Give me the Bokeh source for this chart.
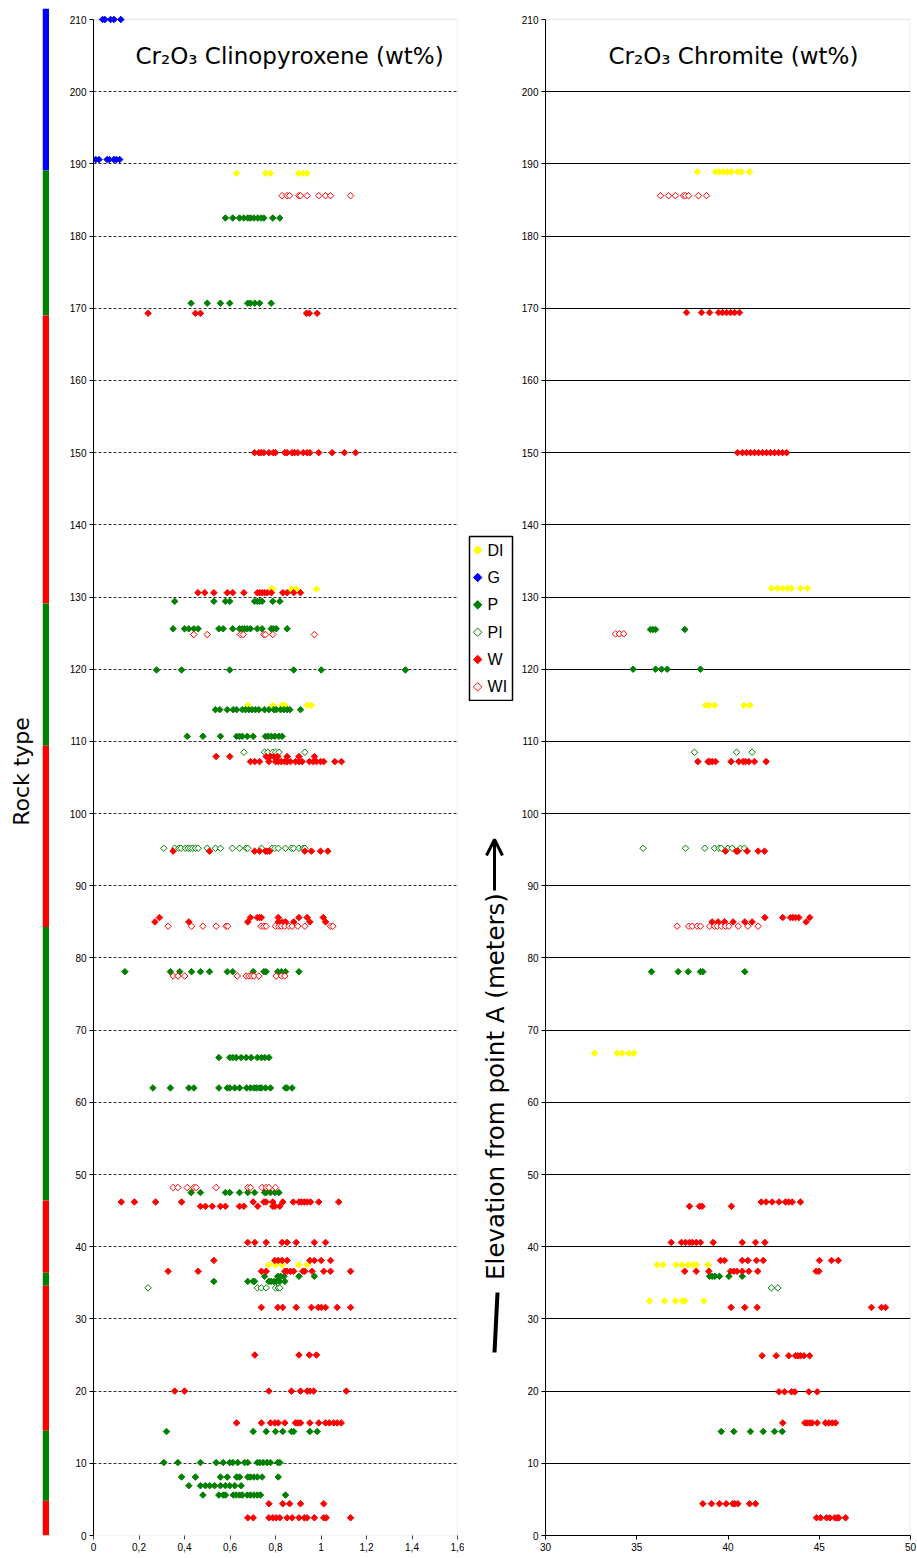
import numpy as np
from bokeh.plotting import figure
from bokeh.layouts import row, column
from bokeh.models import (FixedTicker, BoxAnnotation, Label, Arrow, OpenHead, Range1d,
                          FactorRange, Spacer)
from bokeh.core.properties import value
from bokeh.embed import file_html
from bokeh.resources import INLINE

# ---------------- data ----------------
# rock-type column (boundaries from top to bottom, metres) and the type of each interval
rock_bounds = [211.5, 189.1, 169.0, 129.1, 109.4, 84.3, 46.4, 36.4, 34.6, 14.5, 4.8, 0.0]
rock_types = ["G", "P", "W", "P", "W", "P", "W", "P", "W", "P", "W"]

series_names = ["DI", "G", "P", "PI", "W", "WI"]

# Cr2O3 in clinopyroxene (wt%): (elevation, [values])
cpx_DI = [(188.7, [0.629, 0.756, 0.778, 0.902, 0.921, 0.939]),
          (131.1, [0.782, 0.788, 0.870, 0.891, 0.980]),
          (115.0, [0.678, 0.788, 0.829, 0.841, 0.939, 0.958]),
          (37.5, [0.771, 0.800, 0.829, 0.903, 0.939])]
cpx_G = [(210.0, [0.040, 0.050, 0.075, 0.090, 0.120]),
         (190.6, [0.010, 0.024, 0.060, 0.070, 0.090, 0.100, 0.115])]
cpx_P = [(182.5, [0.580, 0.612, 0.642, 0.661, 0.678, 0.690, 0.705, 0.722, 0.737, 0.749, 0.788, 0.819]),
         (170.7, [0.429, 0.500, 0.558, 0.599, 0.678, 0.690, 0.709, 0.730, 0.781]),
         (129.4, [0.357, 0.529, 0.580, 0.599, 0.708, 0.720, 0.730, 0.741, 0.788, 0.819]),
         (125.6, [0.350, 0.400, 0.419, 0.441, 0.460, 0.551, 0.570, 0.612, 0.642, 0.654, 0.664,
                  0.676, 0.690, 0.720, 0.741, 0.781, 0.790, 0.803, 0.851]),
         (119.9, [0.277, 0.387, 0.599, 0.880, 1.001, 1.371]),
         (114.4, [0.536, 0.555, 0.588, 0.614, 0.629, 0.654, 0.668, 0.683, 0.697, 0.712, 0.727,
                  0.752, 0.771, 0.793, 0.803, 0.822, 0.837, 0.851, 0.863, 0.910]),
         (110.7, [0.412, 0.481, 0.558, 0.629, 0.642, 0.654, 0.676, 0.702, 0.756, 0.768, 0.782,
                  0.797, 0.815, 0.829]),
         (78.1, [0.138, 0.338, 0.379, 0.431, 0.470, 0.510, 0.588, 0.612, 0.702, 0.749, 0.759,
                 0.810, 0.826, 0.844, 0.903]),
         (66.2, [0.551, 0.599, 0.612, 0.627, 0.649, 0.671, 0.693, 0.720, 0.738, 0.753, 0.771]),
         (62.0, [0.261, 0.338, 0.419, 0.441, 0.551, 0.588, 0.599, 0.621, 0.642, 0.673, 0.690,
                 0.705, 0.716, 0.730, 0.738, 0.756, 0.778, 0.844, 0.851, 0.873]),
         (47.5, [0.429, 0.470, 0.580, 0.599, 0.642, 0.678, 0.708, 0.752, 0.760, 0.778, 0.797, 0.815]),
         (35.9, [0.752, 0.810, 0.822, 0.837, 0.903, 0.971]),
         (35.2, [0.529, 0.678, 0.702, 0.708, 0.771, 0.781, 0.793, 0.803, 0.819, 0.841]),
         (14.4, [0.321, 0.702, 0.759, 0.800, 0.832, 0.870, 0.880, 0.951, 0.983]),
         (10.1, [0.309, 0.371, 0.470, 0.539, 0.570, 0.599, 0.612, 0.634, 0.664, 0.678, 0.720,
                 0.731, 0.746, 0.763, 0.778, 0.810, 0.819]),
         (8.1, [0.387, 0.448, 0.558, 0.588, 0.629, 0.642, 0.678, 0.690, 0.705, 0.720, 0.741, 0.812]),
         (6.9, [0.419, 0.470, 0.492, 0.511, 0.532, 0.558, 0.580, 0.599, 0.621, 0.649]),
         (5.6, [0.481, 0.551, 0.570, 0.580, 0.614, 0.627, 0.642, 0.654, 0.676, 0.690, 0.705,
                0.720, 0.734, 0.844])]
cpx_PI = [(108.5, [0.661, 0.752, 0.766, 0.788, 0.800, 0.815, 0.929]),
          (95.2, [0.309, 0.357, 0.375, 0.385, 0.404, 0.416, 0.426, 0.436, 0.448, 0.460, 0.500,
                  0.536, 0.558, 0.610, 0.642, 0.671, 0.678, 0.738, 0.785, 0.797, 0.812, 0.844,
                  0.870, 0.880, 0.903, 0.922, 0.929]),
          (34.3, [0.240, 0.720, 0.738, 0.759, 0.800, 0.812, 0.819])]
cpx_W = [(169.3, [0.240, 0.448, 0.470, 0.936, 0.949, 0.983]),
         (150.0, [0.708, 0.727, 0.737, 0.749, 0.771, 0.790, 0.800, 0.841, 0.851, 0.873, 0.884,
                  0.898, 0.922, 0.939, 0.951, 0.990, 1.049, 1.103, 1.152]),
         (130.6, [0.459, 0.489, 0.529, 0.588, 0.612, 0.661, 0.720, 0.730, 0.741, 0.752, 0.763,
                  0.782, 0.832, 0.851, 0.880, 0.910]),
         (107.9, [0.539, 0.599, 0.759, 0.778, 0.793, 0.810, 0.851, 0.903, 0.971]),
         (107.2, [0.690, 0.709, 0.730, 0.771, 0.800, 0.812, 0.825, 0.840, 0.851, 0.866, 0.888,
                  0.903, 0.917, 0.949, 0.966, 0.980, 0.998, 1.012, 1.061, 1.090]),
         (94.8, [0.350, 0.510, 0.708, 0.730, 0.756, 0.763, 0.774, 0.929, 0.958, 0.998, 1.030]),
         (85.6, [0.290, 0.690, 0.720, 0.730, 0.738, 0.812, 0.903, 0.939, 1.010]),
         (85.0, [0.270, 0.419, 0.678, 0.812, 0.829, 0.844, 0.880, 0.951, 1.020]),
         (46.2, [0.122, 0.180, 0.273, 0.387, 0.702, 0.749, 0.759, 0.788, 0.832, 0.878, 0.903,
                 0.914, 0.927, 0.939, 0.954, 0.990, 1.078]),
         (45.6, [0.470, 0.492, 0.522, 0.558, 0.580, 0.642, 0.661, 0.722, 0.788, 0.797, 0.819]),
         (40.6, [0.678, 0.709, 0.759, 0.829, 0.851, 0.891, 0.971, 1.020]),
         (38.1, [0.529, 0.797, 0.812, 0.829, 0.851, 0.951, 0.971, 1.001, 1.042]),
         (36.6, [0.328, 0.460, 0.738, 0.759, 0.841, 0.851, 0.866, 0.880, 0.920, 0.929, 0.961,
                 1.012, 1.042, 1.130]),
         (31.6, [0.738, 0.810, 0.832, 0.891, 0.958, 0.988, 1.002, 1.020, 1.071, 1.130]),
         (25.0, [0.709, 0.903, 0.949, 0.980]),
         (20.0, [0.357, 0.400, 0.771, 0.870, 0.910, 0.939, 0.951, 0.968, 1.111]),
         (15.6, [0.629, 0.738, 0.778, 0.797, 0.812, 0.841, 0.888, 0.898, 0.910, 0.951, 0.990,
                 1.020, 1.037, 1.056, 1.071, 1.089]),
         (4.4, [0.771, 0.832, 0.862, 0.910, 1.012]),
         (2.45, [0.678, 0.702, 0.771, 0.788, 0.803, 0.819, 0.851, 0.873, 0.903, 0.927, 0.939,
                 0.971, 1.012, 1.023, 1.130])]
cpx_WI = [(185.6, [0.829, 0.851, 0.862, 0.903, 0.910, 0.939, 0.990, 1.020, 1.042, 1.130]),
          (124.8, [0.441, 0.500, 0.646, 0.658, 0.749, 0.756, 0.788, 0.971]),
          (84.4, [0.328, 0.431, 0.481, 0.539, 0.583, 0.590, 0.737, 0.749, 0.759, 0.800, 0.815,
                  0.826, 0.841, 0.859, 0.873, 0.898, 0.929, 1.042, 1.052]),
          (77.5, [0.350, 0.371, 0.401, 0.632, 0.671, 0.683, 0.695, 0.705, 0.727, 0.803, 0.826, 0.841]),
          (48.2, [0.350, 0.371, 0.412, 0.441, 0.451, 0.539, 0.678, 0.690, 0.741, 0.759, 0.771, 0.800])]

# Cr2O3 in chromite (wt%): (elevation, [values])
chr_DI = [(188.9, [38.33, 39.32, 39.53, 39.75, 39.97, 40.19, 40.52, 40.74, 41.18]),
          (131.2, [42.38, 42.71, 42.99, 43.26, 43.48, 43.97, 44.36]),
          (115.0, [38.77, 38.95, 39.26, 40.87, 41.20]),
          (66.8, [32.68, 33.93, 34.20, 34.57, 34.84]),
          (37.5, [36.12, 36.43, 37.16, 37.49, 37.82, 38.09, 38.27, 38.90]),
          (32.5, [35.70, 36.52, 37.12, 37.49, 37.63, 38.68])]
chr_G = []
chr_P = [(125.5, [35.75, 35.88, 36.03, 37.63]),
         (120.0, [34.80, 36.03, 36.36, 36.67, 38.49]),
         (78.1, [35.81, 37.27, 37.82, 38.49, 38.62, 40.92]),
         (35.9, [38.99, 39.13, 39.28, 39.53, 40.05, 40.78]),
         (14.4, [39.63, 40.32, 41.23, 41.93, 42.55, 42.97])]
chr_PI = [(108.5, [38.16, 40.47, 41.32]),
          (95.2, [35.35, 37.67, 38.73, 39.26, 39.50, 39.63, 39.99, 40.23, 40.68, 40.90]),
          (34.3, [42.38, 42.73])]
chr_W = [(169.4, [37.73, 38.55, 38.99, 39.48, 39.70, 39.92, 40.14, 40.36, 40.63]),
         (150.0, [40.52, 40.79, 41.01, 41.23, 41.45, 41.67, 41.89, 42.11, 42.33, 42.55, 42.77,
                  42.99, 43.21]),
         (107.2, [38.35, 38.91, 39.00, 39.13, 39.32, 40.17, 40.59, 40.83, 40.96, 41.14, 41.45, 42.09]),
         (94.8, [39.86, 40.45, 40.54, 41.05, 41.65, 42.00]),
         (85.6, [42.02, 43.00, 43.42, 43.55, 43.70, 43.88, 44.48]),
         (85.0, [39.13, 39.46, 39.81, 40.28, 40.92, 41.32, 44.28]),
         (46.2, [41.82, 42.09, 42.42, 42.79, 43.15, 43.33, 43.52, 43.97]),
         (45.6, [37.89, 38.44, 38.58, 40.19]),
         (40.6, [36.89, 37.45, 37.67, 37.89, 38.04, 38.26, 38.49, 39.19, 40.78, 41.51, 42.02]),
         (38.1, [39.59, 39.81, 40.78, 41.09, 41.56, 41.93, 45.01, 45.67, 46.04]),
         (36.6, [37.63, 38.26, 38.95, 40.14, 40.32, 40.50, 40.78, 41.14, 41.63, 44.83, 44.98]),
         (31.6, [40.17, 40.92, 41.60, 47.86, 48.41, 48.63]),
         (24.9, [41.87, 42.64, 43.33, 43.70, 43.83, 43.97, 44.16, 44.47]),
         (19.9, [42.79, 43.10, 43.48, 43.66, 44.43, 44.89]),
         (15.6, [43.00, 44.21, 44.34, 44.48, 44.61, 44.89, 45.34, 45.53, 45.71, 45.89]),
         (4.4, [38.62, 39.10, 39.53, 39.90, 40.26, 40.37, 40.54, 41.18, 41.51]),
         (2.45, [44.85, 45.07, 45.40, 45.58, 45.85, 45.98, 46.07, 46.44])]
chr_WI = [(185.6, [36.30, 36.74, 37.12, 37.56, 37.67, 37.84, 38.38, 38.82]),
          (124.9, [33.84, 34.05, 34.29]),
          (84.4, [37.21, 37.85, 38.04, 38.31, 38.49, 39.00, 39.26, 39.41, 39.63, 39.86, 40.05,
                  40.56, 41.09, 41.65])]

y_ticks = list(range(0, 211, 10))
left_x_ticks = [0, 0.2, 0.4, 0.6, 0.8, 1.0, 1.2, 1.4, 1.6]
left_x_labels = ["0", "0,2", "0,4", "0,6", "0,8", "1", "1,2", "1,4", "1,6"]
right_x_ticks = [30, 35, 40, 45, 50]

title_left = "Cr\u2082O\u2083 Clinopyroxene (wt%)"
title_right = "Cr\u2082O\u2083 Chromite (wt%)"
axis_title = "Elevation from point A (meters)"

# ---------------- styling / geometry ----------------
COLORS = {"DI": "#FFFF00", "G": "#0000FF", "P": "#008000", "PI": "#008000",
          "W": "#FF0000", "WI": "#FF0000"}
OPEN = {"PI", "WI"}
TICK_FONT = "Liberation Sans"
H = 1556
Y0_PAGE = 1535          # page row of elevation 0
Y210_PAGE = 19          # page row of elevation 210
TOP = 7                 # frame top (page row) for every panel
BOTTOM = H - Y0_PAGE
PX_PER_UNIT = (Y0_PAGE - Y210_PAGE) / 210.0
Y_TOP = 210 + (Y210_PAGE - TOP) / PX_PER_UNIT
MID_LEFT = 5            # left border inside the middle column (aligned with the legend)


def expand(rows):
    xs, ys = [], []
    for yv, vals in rows:
        xs += list(vals)
        ys += [yv] * len(vals)
    return xs, ys


def add_series(p, xs, ys, name, size=4.6):
    col = COLORS[name]
    fill = "white" if name in OPEN else col
    return p.scatter(x=xs, y=ys, marker="square", angle=np.pi / 4, size=size,
                     fill_color=fill, line_color=col, line_width=1)


def blank(p):
    p.background_fill_color = "white"
    p.border_fill_color = "white"
    p.outline_line_color = None
    p.grid.visible = False


def style_common(p):
    blank(p)
    p.ygrid.visible = True
    ya = p.yaxis[0]
    ya.ticker = FixedTicker(ticks=y_ticks)
    ya.bounds = (0, 210)
    ya.major_tick_out = 4
    ya.major_tick_in = 0
    ya.minor_tick_line_color = None
    ya.axis_line_color = "black"
    ya.major_tick_line_color = "black"
    ya.major_label_standoff = 3
    ya.major_label_text_font = TICK_FONT
    ya.major_label_text_font_size = "10px"
    ya.major_label_text_color = "#000000"
    xa = p.xaxis[0]
    xa.major_tick_out = 4
    xa.major_tick_in = 0
    xa.minor_tick_line_color = None
    xa.major_label_standoff = 3
    xa.major_label_text_font = TICK_FONT
    xa.major_label_text_font_size = "10px"
    xa.major_label_text_color = "#000000"


# ---------------- rock-type bar ----------------
B = figure(width=49, height=H, x_range=Range1d(0, 1), y_range=Range1d(0, Y_TOP),
           output_backend="svg", toolbar_location=None, x_axis_location=None,
           min_border_left=42, min_border_right=0, min_border_top=TOP, min_border_bottom=BOTTOM)
blank(B)
rock_col = {"G": "#0000FF", "P": "#008000", "W": "#FF0000"}
B.quad(left=0, right=1, top=rock_bounds[:-1], bottom=rock_bounds[1:],
       fill_color=[rock_col[t] for t in rock_types], line_color=None)
ba = B.yaxis[0]
ba.ticker = FixedTicker(ticks=[])
ba.axis_line_color = None
ba.major_tick_line_color = None
ba.minor_tick_line_color = None
ba.major_tick_out = 0
ba.major_label_standoff = 0
ba.axis_label = "Rock type"
ba.axis_label_text_font = "DejaVu Sans"
ba.axis_label_text_font_style = "normal"
ba.axis_label_text_font_size = "22px"
ba.axis_label_text_color = "black"
ba.axis_label_standoff = 9

# ---------------- clinopyroxene panel ----------------
L = figure(width=415, height=H, x_range=Range1d(0, 1.6), y_range=Range1d(0, Y_TOP),
           output_backend="svg", toolbar_location=None,
           min_border_left=44, min_border_right=7, min_border_top=TOP, min_border_bottom=BOTTOM)
style_common(L)
L.add_layout(BoxAnnotation(left=0, right=1.6, bottom=0, top=210, fill_alpha=0,
                           line_color="#b8b8b8", line_width=1.5, level="image"))
L.xaxis[0].ticker = FixedTicker(ticks=left_x_ticks)
L.xaxis[0].major_label_overrides = {t: s for t, s in zip(left_x_ticks, left_x_labels)}
L.xaxis[0].axis_line_color = None
L.xaxis[0].major_tick_line_color = "#404040"
L.ygrid[0].ticker = FixedTicker(ticks=y_ticks[:-1])
L.ygrid[0].grid_line_color = "#303030"
L.ygrid[0].grid_line_dash = "3 2"
L.ygrid[0].grid_line_width = 1

cpx = {"DI": cpx_DI, "G": cpx_G, "P": cpx_P, "PI": cpx_PI, "W": cpx_W, "WI": cpx_WI}
for n in series_names:
    xs, ys = expand(cpx[n])
    add_series(L, xs, ys, n)

L.add_layout(Label(x=42, y=Y0_PAGE - 55.5, x_units="screen", y_units="screen",
                   text=title_left, text_font="DejaVu Sans", text_font_size="23px",
                   text_color="black", text_align="left", text_baseline="alphabetic"))

# ---------------- middle: legend + axis title ----------------
LG = figure(width=51, height=166, x_range=Range1d(0, 1),
            y_range=FactorRange(factors=list(reversed(series_names))),
            output_backend="svg", toolbar_location=None,
            x_axis_location=None, y_axis_location=None,
            min_border_left=MID_LEFT, min_border_right=3, min_border_top=1, min_border_bottom=1)
blank(LG)
LG.outline_line_color = "black"
LG.outline_line_width = 1.5
LG.scatter(x=[0.19] * len(series_names), y=series_names, marker="square", angle=np.pi / 4,
           size=6, line_width=1, line_color=[COLORS[n] for n in series_names],
           fill_color=["white" if n in OPEN else COLORS[n] for n in series_names])
LG.text(x=[0.42] * len(series_names), y=series_names, text=series_names,
        text_font=value(TICK_FONT), text_font_size=value("16px"), text_color="black",
        text_align="left", text_baseline="middle")

EF = figure(width=51, height=H - 535 - 166, x_range=Range1d(0, 1), y_range=Range1d(0, 1),
            output_backend="svg", toolbar_location=None,
            x_axis_location=None, y_axis_location=None,
            min_border_left=MID_LEFT, min_border_right=3, min_border_top=0, min_border_bottom=0)
blank(EF)
EF.add_layout(Label(x=31 - MID_LEFT, y=H - 1086, x_units="screen", y_units="screen",
                    text=axis_title, angle=np.pi / 2,
                    text_font="DejaVu Sans", text_font_size="24.5px", text_color="black",
                    text_align="center", text_baseline="middle"))
EF.add_layout(Arrow(x_start=30 - MID_LEFT, y_start=H - 890, x_end=30 - MID_LEFT, y_end=H - 839,
                    start_units="screen", end_units="screen", line_width=3, line_color="black",
                    end=OpenHead(size=16, line_width=3, line_color="black")))
EF.add_layout(Arrow(x_start=33 - MID_LEFT, y_start=H - 1292, x_end=30 - MID_LEFT, y_end=H - 1352,
                    start_units="screen", end_units="screen", line_width=4, line_color="black",
                    start=None, end=None))

MID = column(Spacer(width=51, height=535), LG, EF, spacing=0)

# ---------------- chromite panel ----------------
R = figure(width=402, height=H, x_range=Range1d(30, 50), y_range=Range1d(0, Y_TOP),
           output_backend="svg", toolbar_location=None,
           min_border_left=30, min_border_right=7, min_border_top=TOP, min_border_bottom=BOTTOM)
style_common(R)
R.add_layout(BoxAnnotation(left=30, right=50, bottom=0, top=210, fill_alpha=0,
                           line_color="#b8b8b8", line_width=1.5, level="image"))
R.xaxis[0].ticker = FixedTicker(ticks=right_x_ticks)
R.xaxis[0].axis_line_color = "black"
R.xaxis[0].major_tick_line_color = "black"
R.ygrid[0].ticker = FixedTicker(ticks=y_ticks[1:-1])
R.ygrid[0].grid_line_color = "black"
R.ygrid[0].grid_line_width = 1

chrm = {"DI": chr_DI, "G": chr_G, "P": chr_P, "PI": chr_PI, "W": chr_W, "WI": chr_WI}
for n in series_names:
    xs, ys = expand(chrm[n])
    add_series(R, xs, ys, n)

R.add_layout(Label(x=63, y=Y0_PAGE - 55.5, x_units="screen", y_units="screen",
                   text=title_right, text_font="DejaVu Sans", text_font_size="23px",
                   text_color="black", text_align="left", text_baseline="alphabetic"))

layout = row(B, L, MID, R, spacing=0)
open("out.html", "w").write(file_html(layout, INLINE))
